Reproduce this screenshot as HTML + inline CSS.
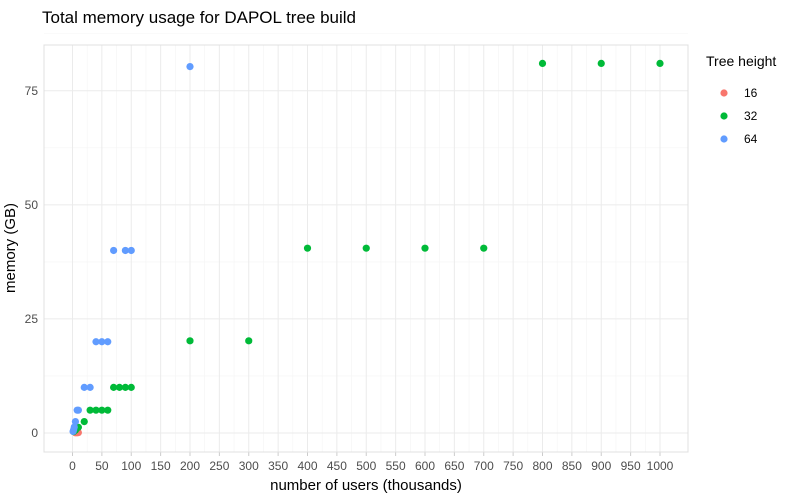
<!DOCTYPE html>
<html><head><meta charset="utf-8"><style>
body{margin:0;background:#fff;font-family:"Liberation Sans",sans-serif}
svg text{font-family:"Liberation Sans",sans-serif}
</style></head><body>
<svg id="c" width="800" height="494"></svg>
<script>
const xTicks=[0,50,100,150,200,250,300,350,400,450,500,550,600,650,700,750,800,850,900,950,1000];
const yTicks=[0,25,50,75];
const seriesNames=["16","32","64"];
const seriesColors=["#F8766D","#00BA38","#619CFF"];
const x16=[5,8,10];
const y16=[0.05,0.05,0.1];
const x32=[800,900,1000,400,500,600,700,200,300,70,80,90,100,30,40,50,60,20,10,5,2];
const y32=[81,81,81,40.5,40.5,40.5,40.5,20.2,20.2,10,10,10,10,5,5,5,5,2.5,1.25,0.6,0.3];
const x64=[200,70,90,100,40,50,60,20,30,8,10,5,3,2,1];
const y64=[80.3,40,40,40,20,20,20,10,10,5,5,2.5,1.3,0.7,0.35];
const NS="http://www.w3.org/2000/svg";
const svg=document.getElementById('c');
const L=44,R=688,T=45,B=452;
const X=v=>72.5+v*0.5875;
const Y=v=>433-v*4.563;
function el(t,a,p){const e=document.createElementNS(NS,t);for(const k in a)e.setAttribute(k,a[k]);(p||svg).appendChild(e);return e;}
const g=el('g',{});


// minor y grid
for(let i=0;i<yTicks.length;i++){const m=yTicks[i]+12.5;const ln=el('line',{x1:L,x2:R,y1:Y(m),y2:Y(m),stroke:'#f4f4f4','stroke-width':0.6},g);

}
for(let i=0;i<xTicks.length-1;i++){const m=(xTicks[i]+xTicks[i+1])/2;const ln=el('line',{x1:X(m),x2:X(m),y1:T,y2:B,stroke:'#f4f4f4','stroke-width':0.6},g);

}
for(const v of yTicks){const ln=el('line',{x1:L,x2:R,y1:Y(v),y2:Y(v),stroke:'#ebebeb','stroke-width':1},g);


const t=el('text',{x:38,y:Y(v)+4,'text-anchor':'end','font-size':12,fill:'#4d4d4d'});t.textContent=v;

}
for(const v of xTicks){const ln=el('line',{x1:X(v),x2:X(v),y1:T,y2:B,stroke:'#ebebeb','stroke-width':1},g);


const tk=el('line',{x1:X(v),x2:X(v),y1:B,y2:B+4,stroke:'#cccccc'});


const t=el('text',{x:X(v),y:B+18,'text-anchor':'middle','font-size':12,fill:'#4d4d4d'});t.textContent=v;

}
const fr=el('rect',{x:L,y:T,width:R-L,height:B-T,fill:'none',stroke:'#e0e0e0'});


const xs=[x16,x32,x64],ys=[y16,y32,y64];
for(let s=0;s<3;s++){const sg=el('g',{});


for(let i=0;i<xs[s].length;i++){const c=el('circle',{cx:X(xs[s][i]),cy:Y(ys[s][i]),r:3.6,fill:seriesColors[s]},sg);

}}
let t=el('text',{x:42,y:23,'font-size':17,fill:'#000'});t.textContent='Total memory usage for DAPOL tree build';


t=el('text',{x:366,y:490,'text-anchor':'middle','font-size':15,fill:'#000'});t.textContent='number of users (thousands)';


t=el('text',{x:0,y:0,'text-anchor':'middle','font-size':15,fill:'#000',transform:'translate(15,248) rotate(-90)'});t.textContent='memory (GB)';


t=el('text',{x:706,y:66,'font-size':14,fill:'#000'});t.textContent='Tree height';


for(let s=0;s<3;s++){const lg=el('g',{});


const yy=93+s*23;el('circle',{cx:724,cy:yy,r:3.6,fill:seriesColors[s]},lg);
const tt=el('text',{x:744,y:yy+4,'font-size':12,fill:'#000'},lg);tt.textContent=seriesNames[s];}
</script>
</body></html>
